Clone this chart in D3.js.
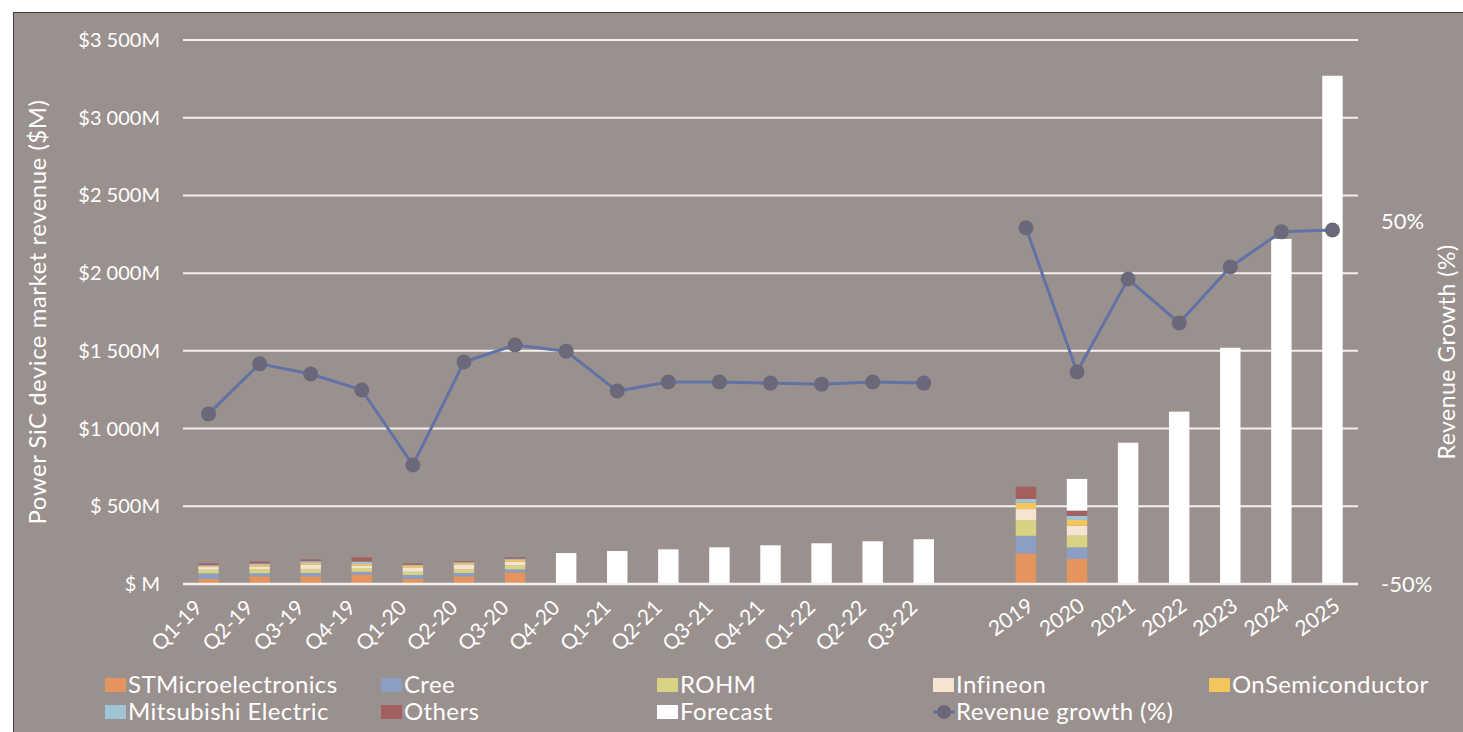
<!DOCTYPE html>
<html>
<head>
<meta charset="utf-8">
<script src="https://cdn.jsdelivr.net/npm/d3@7/dist/d3.min.js"></script>
<style>
  html, body { margin: 0; padding: 0; background: #fff; }
  svg { display: block; font-family: Lato, "Open Sans", sans-serif; }
  text { fill: #fff; }
</style>
</head>
<body>
<svg id="chart" width="1463" height="732"></svg>
<script>
// categories ("" is the empty slot between quarters and years)
const categories = [
  "Q1-19", "Q2-19", "Q3-19", "Q4-19", "Q1-20", "Q2-20", "Q3-20", "Q4-20",
  "Q1-21", "Q2-21", "Q3-21", "Q4-21", "Q1-22", "Q2-22", "Q3-22", "",
  "2019", "2020", "2021", "2022", "2023", "2024", "2025"
];

// revenue by supplier, $M
const stMicro    = [32, 50, 50, 60, 34, 50, 75, 0, 0, 0, 0, 0, 0, 0, 0, 0, 197, 161, 0, 0, 0, 0, 0];
const cree       = [36, 19, 21, 19, 24, 21, 19, 0, 0, 0, 0, 0, 0, 0, 0, 0, 113, 75, 0, 0, 0, 0, 0];
const rohm       = [24, 26, 26, 24, 21, 24, 26, 0, 0, 0, 0, 0, 0, 0, 0, 0, 101, 75, 0, 0, 0, 0, 0];
const infineon   = [17, 17, 28, 15, 28, 30, 24, 0, 0, 0, 0, 0, 0, 0, 0, 0, 71, 64, 0, 0, 0, 0, 0];
const onSemi     = [6, 11, 11, 11, 13, 11, 13, 0, 0, 0, 0, 0, 0, 0, 0, 0, 41, 37, 0, 0, 0, 0, 0];
const mitsubishi = [6, 9, 11, 15, 4, 4, 6, 0, 0, 0, 0, 0, 0, 0, 0, 0, 24, 26, 0, 0, 0, 0, 0];
const others     = [11, 13, 11, 28, 9, 6, 9, 0, 0, 0, 0, 0, 0, 0, 0, 0, 79, 34, 0, 0, 0, 0, 0];
const forecast   = [0, 0, 0, 0, 0, 0, 0, 199, 212, 223, 236, 249, 262, 275, 288, 0, 0, 204, 909, 1109, 1520, 2220, 3270];

// revenue growth, %
const growth = [-3.1, 10.7, 7.9, 3.5, -17.2, 11.2, 15.9, 14.2, 3.2, 5.7, 5.7, 5.4, 5.1, 5.7, 5.4, null,
  48.2, 8.5, 34.1, 22.0, 37.4, 47.1, 47.6];

const revenueTicks = [0, 500, 1000, 1500, 2000, 2500, 3000, 3500];
const revenueTickLabels = ["$ M", "$ 500M", "$1 000M", "$1 500M", "$2 000M", "$2 500M", "$3 000M", "$3 500M"];
const growthTicks = [-50, 50];
const growthTickLabels = ["-50%", "50%"];

const seriesNames = ["STMicroelectronics", "Cree", "ROHM", "Infineon", "OnSemiconductor",
  "Mitsubishi Electric", "Others", "Forecast"];
const seriesValues = [stMicro, cree, rohm, infineon, onSemi, mitsubishi, others, forecast];
const seriesColors = ["#e3955d", "#8d9ec4", "#d8d283", "#f6e4d3", "#f2c55d", "#9fc4d6", "#a45f5f", "#ffffff"];

const svg = d3.select("#chart");
const bg = "#9a918e";

svg.append("rect")
  .attr("x", 13.5).attr("y", 12.5)
  .attr("width", 1470).attr("height", 740)
  .attr("fill", bg).attr("stroke", "#3b3b3b").attr("stroke-width", 1);

const margin = { top: 40, right: 1358, bottom: 584, left: 183 };

const x = d3.scaleBand()
  .domain(d3.range(categories.length))
  .range([margin.left, margin.right])
  .paddingInner(0.6)
  .paddingOuter(0.3);

const y = d3.scaleLinear().domain([0, 3500]).range([margin.bottom, margin.top]);
const y2 = d3.scaleLinear().domain([-50, 100]).range([margin.bottom, margin.top]);

// gridlines
svg.append("g")
  .selectAll("line")
  .data(revenueTicks.slice(1))
  .join("line")
  .attr("x1", margin.left).attr("x2", margin.right)
  .attr("y1", (d) => y(d)).attr("y2", (d) => y(d))
  .attr("stroke", "#f4f0ee").attr("stroke-width", 2);

// left axis labels
svg.append("g")
  .selectAll("text")
  .data(revenueTicks)
  .join("text")
  .attr("x", 160)
  .attr("y", (d) => y(d))
  .attr("dy", "0.35em")
  .attr("text-anchor", "end")
  .style("font-size", "20px")
  .text((d, i) => revenueTickLabels[i]);

// right axis labels
svg.append("g")
  .selectAll("text")
  .data(growthTicks)
  .join("text")
  .attr("x", 1381)
  .attr("y", (d) => y2(d))
  .attr("dy", "0.35em")
  .style("font-size", "22px")
  .text((d, i) => growthTickLabels[i]);

// stacked bars
const table = categories.map((c, i) => {
  const row = { i };
  seriesNames.forEach((s, k) => (row[s] = seriesValues[k][i]));
  return row;
});
const stacked = d3.stack().keys(seriesNames)(table);

svg.append("g")
  .selectAll("g")
  .data(stacked)
  .join("g")
  .attr("fill", (d, k) => seriesColors[k])
  .selectAll("rect")
  .data((d) => d.filter((v) => v[1] > v[0]))
  .join("rect")
  .attr("x", (d) => x(d.data.i))
  .attr("width", x.bandwidth())
  .attr("y", (d) => y(d[1]))
  .attr("height", (d) => y(d[0]) - y(d[1]));

// baseline
svg.append("line")
  .attr("x1", margin.left).attr("x2", margin.right)
  .attr("y1", y(0)).attr("y2", y(0))
  .attr("stroke", "#f4f0ee").attr("stroke-width", 2.5);

// growth line
const line = d3.line()
  .defined((d) => d != null)
  .x((d, i) => x(i) + x.bandwidth() / 2)
  .y((d) => y2(d));

svg.append("path")
  .datum(growth)
  .attr("fill", "none")
  .attr("stroke", "#6172a6")
  .attr("stroke-width", 3)
  .attr("d", line);

svg.append("g")
  .selectAll("circle")
  .data(growth.map((v, i) => ({ v, i })).filter((d) => d.v != null))
  .join("circle")
  .attr("cx", (d) => x(d.i) + x.bandwidth() / 2)
  .attr("cy", (d) => y2(d.v))
  .attr("r", 7.5)
  .attr("fill", "#6a6879");

// category labels
svg.append("g")
  .selectAll("text")
  .data(categories.map((c, i) => ({ c, i })).filter((d) => d.c !== ""))
  .join("text")
  .attr("text-anchor", "end")
  .style("font-size", "21px")
  .attr("transform", (d) => {
    const cx = x(d.i) + x.bandwidth() / 2;
    return d.c.startsWith("Q")
      ? `translate(${cx - 5},${609}) rotate(-45)`
      : `translate(${cx + 9},${609}) rotate(-35)`;
  })
  .text((d) => d.c);

// axis titles
svg.append("text")
  .attr("transform", `translate(46,312) rotate(-90)`)
  .attr("text-anchor", "middle")
  .style("font-size", "24px")
  .style("letter-spacing", "0.5px")
  .text("Power SiC device market revenue ($M)");

svg.append("text")
  .attr("transform", `translate(1455,352) rotate(-90)`)
  .attr("text-anchor", "middle")
  .style("font-size", "23px")
  .style("letter-spacing", "0.5px")
  .text("Revenue Growth (%)");

// legend
const legendItems = [
  { name: "STMicroelectronics", color: seriesColors[0] },
  { name: "Cree", color: seriesColors[1] },
  { name: "ROHM", color: seriesColors[2] },
  { name: "Infineon", color: seriesColors[3] },
  { name: "OnSemiconductor", color: seriesColors[4] },
  { name: "Mitsubishi Electric", color: seriesColors[5] },
  { name: "Others", color: seriesColors[6] },
  { name: "Forecast", color: seriesColors[7] },
  { name: "Revenue growth (%)", line: true },
];

const legend = svg.append("g")
  .selectAll("g")
  .data(legendItems)
  .join("g")
  .attr("transform", (d, i) => `translate(${105 + (i % 5) * 276},${685 + Math.floor(i / 5) * 27})`);

legend.filter((d) => !d.line)
  .append("rect")
  .attr("x", 0).attr("y", -7)
  .attr("width", 21).attr("height", 14)
  .attr("fill", (d) => d.color);

legend.filter((d) => d.line)
  .call((g) => g.append("line")
    .attr("x1", 0).attr("x2", 22)
    .attr("stroke", "#6172a6").attr("stroke-width", 3))
  .call((g) => g.append("circle")
    .attr("cx", 11).attr("r", 7)
    .attr("fill", "#6a6879"));

legend.append("text")
  .attr("x", 23)
  .attr("dy", "0.35em")
  .style("font-size", "24px")
  .style("letter-spacing", "0.4px")
  .text((d) => d.name);
</script>
</body>
</html>
